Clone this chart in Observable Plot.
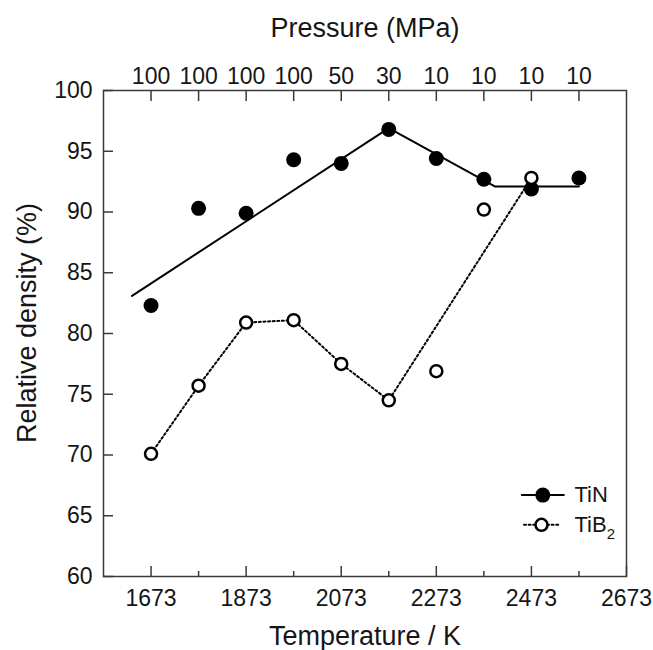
<!DOCTYPE html>
<html><head><meta charset="utf-8">
<script src="https://cdn.jsdelivr.net/npm/d3@7"></script>
<script src="https://cdn.jsdelivr.net/npm/@observablehq/plot@0.6"></script>
<style>body{margin:0;background:#fff}</style>
</head><body><div id="chart"></div>
<script>
// Sintering temperature (K) and pressure (MPa) for each run
const temperature = [1673, 1773, 1873, 1973, 2073, 2173, 2273, 2373, 2473, 2573];
const pressure    = [100, 100, 100, 100, 50, 30, 10, 10, 10, 10];
// Relative density (%)
const tinDensity  = [82.3, 90.3, 89.9, 94.3, 94.0, 96.8, 94.4, 92.7, 91.9, 92.8];
const tib2Density = [70.1, 75.7, 80.9, 81.1, 77.5, 74.5, 76.9, 90.2, 92.8, null];
// TiB2 guide line passes through these runs
const tib2LineT = [1673, 1773, 1873, 1973, 2073, 2173, 2473];
// TiN trend line (piecewise)
const tinFitT = [1633, 2173, 2396, 2573];
const tinFitV = [83.1, 96.9, 92.1, 92.1];
// Axis ticks
const xMajorTicks = [1673, 1873, 2073, 2273, 2473, 2673];
const xMinorTicks = [1773, 1973, 2173, 2373, 2573];
const yTicks = [60, 65, 70, 75, 80, 85, 90, 95, 100];

const pressureByT = new Map(temperature.map((t, i) => [t, pressure[i]]));
const tinData = temperature.map((t, i) => ({t, v: tinDensity[i]}));
const tib2Data = temperature.map((t, i) => ({t, v: tib2Density[i]})).filter(d => d.v != null);
const tib2LineData = tib2LineT.map(t => ({t, v: tib2Data.find(d => d.t === t).v}));
const fitData = tinFitT.map((t, i) => ({t, v: tinFitV[i]}));

const ink = "#161616", axisInk = "#3a3a3a";
const tickStyle = {fill: "none", stroke: axisInk, strokeWidth: 1.5, label: null};
const dotted = "2,2.6";
const tickFont = 23, titleFont = 27, legendFont = 22;

const segShape = {draw(ctx, l) { ctx.moveTo(0, 0); ctx.lineTo(0, -l); }};

const chart = Plot.plot({
  width: 653, height: 650,
  marginTop: 90, marginLeft: 103, marginRight: 27, marginBottom: 74,
  x: {domain: [1573, 2673]},
  y: {domain: [60, 100]},
  style: {fontFamily: "'Liberation Sans', Arial, sans-serif", fontSize: "20px", color: ink, background: "#fff"},
  marks: [
    // ticks (inward)
    Plot.axisX({ticks: xMajorTicks, anchor: "bottom", tickSize: 10, dy: -10, ...tickStyle}),
    Plot.axisX({ticks: xMinorTicks, anchor: "bottom", tickSize: 5, dy: -5, ...tickStyle}),
    Plot.axisX({ticks: temperature, anchor: "top", tickSize: 10, dy: 10, ...tickStyle}),
    Plot.axisY({ticks: yTicks, anchor: "left", tickSize: 10, dx: 10, ...tickStyle}),
    // tick labels
    Plot.axisX({ticks: xMajorTicks, anchor: "bottom", tickSize: 0, tickPadding: 13, fontSize: tickFont, fill: ink, label: null, tickFormat: d => String(d)}),
    Plot.axisX({ticks: temperature, anchor: "top", tickSize: 0, tickPadding: 7, fontSize: tickFont, fill: ink, label: null, tickFormat: d => String(pressureByT.get(d))}),
    Plot.axisY({ticks: yTicks, anchor: "left", tickSize: 0, tickPadding: 11, fontSize: tickFont, fill: ink, label: null}),
    // axis titles
    Plot.text(["Pressure (MPa)"], {frameAnchor: "top", dy: -62, lineAnchor: "middle", textAnchor: "middle", fontSize: titleFont, fill: ink}),
    Plot.text(["Temperature / K"], {frameAnchor: "bottom", dy: 60, lineAnchor: "middle", textAnchor: "middle", fontSize: titleFont, fill: ink}),
    Plot.text(["Relative density (%)"], {frameAnchor: "left", dx: -76.5, dy: -10.5, rotate: -90, lineAnchor: "middle", textAnchor: "middle", fontSize: titleFont, fill: ink}),
    Plot.frame({stroke: axisInk, strokeWidth: 1.5}),
    // data
    Plot.line(fitData, {x: "t", y: "v", stroke: "#000", strokeWidth: 2}),
    Plot.line(tib2LineData, {x: "t", y: "v", stroke: "#000", strokeWidth: 2, strokeDasharray: dotted}),
    Plot.dot(tinData, {x: "t", y: "v", r: 7.5, fill: "#000", stroke: "none"}),
    Plot.dot(tib2Data, {x: "t", y: "v", r: 6, fill: "#fff", stroke: "#000", strokeWidth: 2.5}),
    // legend
    Plot.vector([0], {frameAnchor: "bottom-right", dx: -83.7, dy: -81.4, length: 42, rotate: 90, anchor: "middle", shape: segShape, stroke: "#000", strokeWidth: 2}),
    Plot.dot([0], {frameAnchor: "bottom-right", dx: -83.7, dy: -81.4, r: 7.5, fill: "#000", stroke: "none"}),
    Plot.text(["TiN"], {frameAnchor: "bottom-right", dx: -52, dy: -81.4, textAnchor: "start", lineAnchor: "middle", fontSize: legendFont, fill: ink}),
    Plot.vector([0], {frameAnchor: "bottom-right", dx: -85, dy: -51.7, length: 35, rotate: 90, anchor: "middle", shape: segShape, stroke: "#000", strokeWidth: 2, strokeDasharray: dotted}),
    Plot.dot([0], {frameAnchor: "bottom-right", dx: -85, dy: -51.7, r: 6, fill: "#fff", stroke: "#000", strokeWidth: 2.5}),
    Plot.text(["TiB2"], {frameAnchor: "bottom-right", dx: -52, dy: -51.7, textAnchor: "start", lineAnchor: "middle", fontSize: legendFont, fill: ink})
  ]
});

d3.select(chart).selectAll("text").filter(function() { return this.textContent === "TiB2"; })
  .each(function() {
    const t = d3.select(this);
    t.text("TiB");
    t.append("tspan").attr("dy", "0.45em").attr("font-size", 15).text("2");
  });

document.getElementById("chart").append(chart);
</script></body></html>
